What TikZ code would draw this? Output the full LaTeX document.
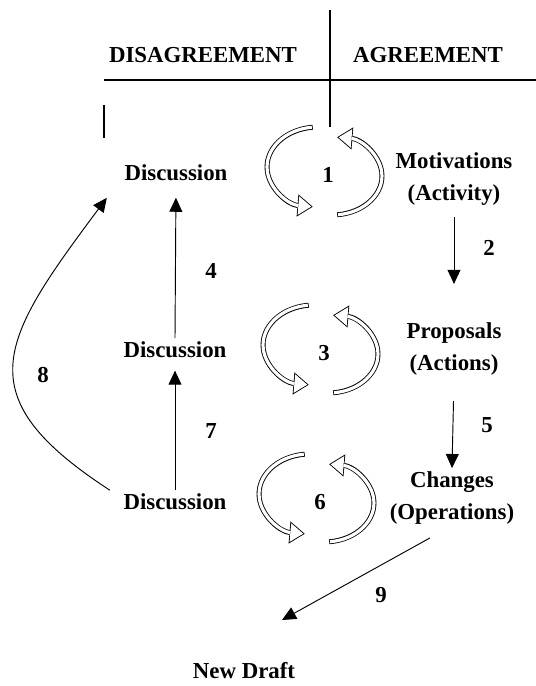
\documentclass[tikz,border=0pt]{standalone}
\usepackage{fontspec}
\setmainfont{Liberation Serif}
\usetikzlibrary{arrows.meta}

\begin{document}
\begin{tikzpicture}[
  x=0.03cm, y=0.03cm,
  lbl/.style={font=\fontsize{19.5}{27}\selectfont\bfseries, align=center, inner sep=3pt},
  num/.style={font=\fontsize{19.5}{27}\selectfont\bfseries, inner sep=1pt},
  arrow/.style={-{Triangle[length=12pt, width=11pt]}, line width=0.8pt},
  rule/.style={line width=1.2pt},
  bandout/.style={line width=4.2pt, -{Triangle[length=13pt, width=19pt, line width=0pt]}},
  bandin/.style={line width=2.7pt, white, shorten <=0.75pt, shorten >=1.27pt,
                 -{Triangle[length=11pt, width=16pt, line width=0pt]}},
]
\useasboundingbox (0,0) rectangle (536,686);

% Column headers and table lines
\node[lbl] (hdis) at (203,631) {DISAGREEMENT};
\node[lbl] (hagr) at (428,631) {AGREEMENT};
\draw[rule] (104,606) -- (536,606);
\draw[rule] (330,676) -- (330,559);
\draw[rule] (104,581) -- (104,548);

% === Disagreement column ===
\node[lbl] (disc1) at (176,513) {Discussion};
\node[lbl] (disc2) at (175,336) {Discussion};
\node[lbl] (disc3) at (175,184) {Discussion};

% === Agreement column ===
\node[lbl] (mot) at (454,507) {Motivations\\(Activity)};
\node[lbl] (prop) at (454,337) {Proposals\\(Actions)};
\node[lbl] (chg) at (452,188) {Changes\\(Operations)};
\node[lbl] (draft) at (244,15) {New Draft};
\coordinate (tip9) at (282,66);

% Cycles between the columns
\node[num] (cyc1) at (328,511) {1};
\node[num] (cyc3) at (324,333) {3};
\node[num] (cyc6) at (320,184) {6};
\foreach \cy in {cyc1, cyc3, cyc6} {
  \foreach \sx/\sy/\sa/\ea/\rx/\ry in {-15.3/47.8/96/264/51/40, 9.2/-39.8/-84/84/50/39} {
    \draw[bandout] ([shift={(\sx,\sy)}]\cy.center) arc[start angle=\sa, end angle=\ea, x radius=\rx, y radius=\ry];
    \draw[bandin] ([shift={(\sx,\sy)}]\cy.center) arc[start angle=\sa, end angle=\ea, x radius=\rx, y radius=\ry];
  }
}

% Arrows down the agreement side
\draw[arrow, shorten <=7pt, shorten >=30pt] (mot.south) -- (prop.north);
\node[num] (n2) at (489,438) {2};
\draw[arrow, shorten <=19pt] (prop.south) -- (chg.north);
\node[num] (n5) at (487,261) {5};

% Arrows up the disagreement side
\draw[arrow, shorten >=11pt] (disc2.north) -- (disc1.south);
\node[num] (n4) at (211,415) {4};
\draw[arrow, shorten >=7.5pt] (disc3.north) -- (disc2.south);
\node[num] (n7) at (211,255) {7};
\draw[arrow] ([shift={(-10,0)}]disc3.north west) .. controls (-35,290) and (0,345) .. ([shift={(-14,-13)}]disc1.south west);
\node[num] (n8) at (43,311) {8};

% To the new draft
\draw[arrow] ([shift={(-22,-10)}]chg.south) -- (tip9);
\node[num] (n9) at (381,91) {9};

\end{tikzpicture}
\end{document}
